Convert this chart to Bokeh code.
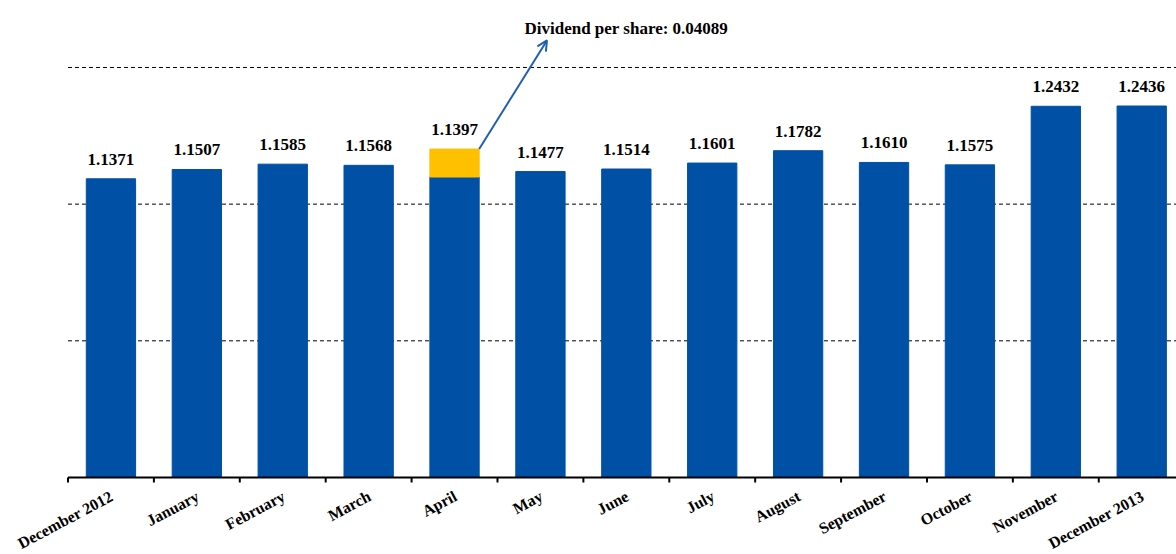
from bokeh.plotting import figure
from bokeh.models import (ColumnDataSource, Range1d, LabelSet, Label, Arrow, OpenHead)
from bokeh.embed import file_html
from bokeh.resources import INLINE
import math

months = ["December 2012", "January", "February", "March", "April", "May", "June",
          "July", "August", "September", "October", "November", "December 2013"]
nav = [1.1371, 1.1507, 1.1585, 1.1568, 1.1397, 1.1477, 1.1514, 1.1601, 1.1782,
       1.1610, 1.1575, 1.2432, 1.2436]
dividend = [0, 0, 0, 0, 0.04089, 0, 0, 0, 0, 0, 0, 0, 0]
value_labels = ["1.1371", "1.1507", "1.1585", "1.1568", "1.1397", "1.1477", "1.1514",
                "1.1601", "1.1782", "1.1610", "1.1575", "1.2432", "1.2436"]
grid_values = [0.9, 1.1, 1.3]
y_min = 0.7
dividend_text = "Dividend per share: 0.04089"

PY = 1 / 683.333   # data units per screen pixel, y
PX = 1 / 85.9      # category units per screen pixel, x
X_START = -0.5
X_END = 12.405

x = list(range(len(months)))
tops = [n + d for n, d in zip(nav, dividend)]
src = ColumnDataSource(dict(x=x, nav=nav, div=dividend, top=tops,
                            base=[y_min] * len(x), lab=value_labels, month=months))

BLUE = "#0050A5"
GOLD = "#FFC000"
ARROW = "#1F5FB0"
FONT = "Liberation Serif"

p = figure(width=1176, height=554, output_backend="svg", toolbar_location=None,
           x_range=Range1d(X_START - 67.5 * PX, X_END), y_range=Range1d(y_min - 77 * PY, 1.398),
           min_border_left=0, min_border_right=0, min_border_top=0, min_border_bottom=0)
p.outline_line_color = None
p.background_fill_color = "white"
p.xaxis.visible = False
p.yaxis.visible = False
p.xgrid.visible = False
p.ygrid.visible = False

# dashed horizontal grid
ng = len(grid_values)
p.segment(x0=[X_START] * ng, y0=grid_values, x1=[X_END] * ng, y1=grid_values,
          line_color="black", line_dash="4 3", line_width=1)

p.vbar(x="x", bottom="base", top="nav", width=0.574, color=BLUE, source=src)
div_src = ColumnDataSource(dict(x=[4], bottom=[nav[4]], top=[nav[4] + dividend[4]]))
p.vbar(x="x", bottom="bottom", top="top", width=0.574, color=GOLD, source=div_src)

labels = LabelSet(x="x", y="top", text="lab", source=src, text_align="center",
                  text_baseline="alphabetic", y_offset=14, text_font=FONT,
                  text_font_style="bold", text_font_size="17px", text_color="black")
p.add_layout(labels)

# category axis: baseline, boundary ticks and rotated names
p.segment(x0=[X_START], y0=[y_min], x1=[X_END], y1=[y_min], line_color="black", line_width=2)
bounds = [i - 0.5 for i in range(len(x) + 1)]
p.segment(x0=bounds, y0=[y_min] * len(bounds), x1=bounds,
          y1=[y_min - 5 * PY] * len(bounds), line_color="black", line_width=2)

cat_labels = LabelSet(x="x", y="base", text="month", source=src, angle=math.radians(28),
                      text_align="right", text_baseline="top", x_offset=-3, y_offset=-10,
                      text_font=FONT, text_font_style="bold", text_font_size="16px",
                      text_color="black")
p.add_layout(cat_labels)

# dividend annotation
p.add_layout(Arrow(end=OpenHead(size=10, line_color=ARROW, line_width=2),
                   x_start=4.287, y_start=nav[4] + dividend[4],
                   x_end=5.076, y_end=1.3395,
                   line_color=ARROW, line_width=2))
p.add_layout(Label(x=6.0, y=1.357, text=dividend_text, text_align="center",
                   text_baseline="alphabetic", text_font=FONT, text_font_style="bold",
                   text_font_size="17px", text_color="black"))

open("out.html", "w").write(file_html(p, INLINE))
